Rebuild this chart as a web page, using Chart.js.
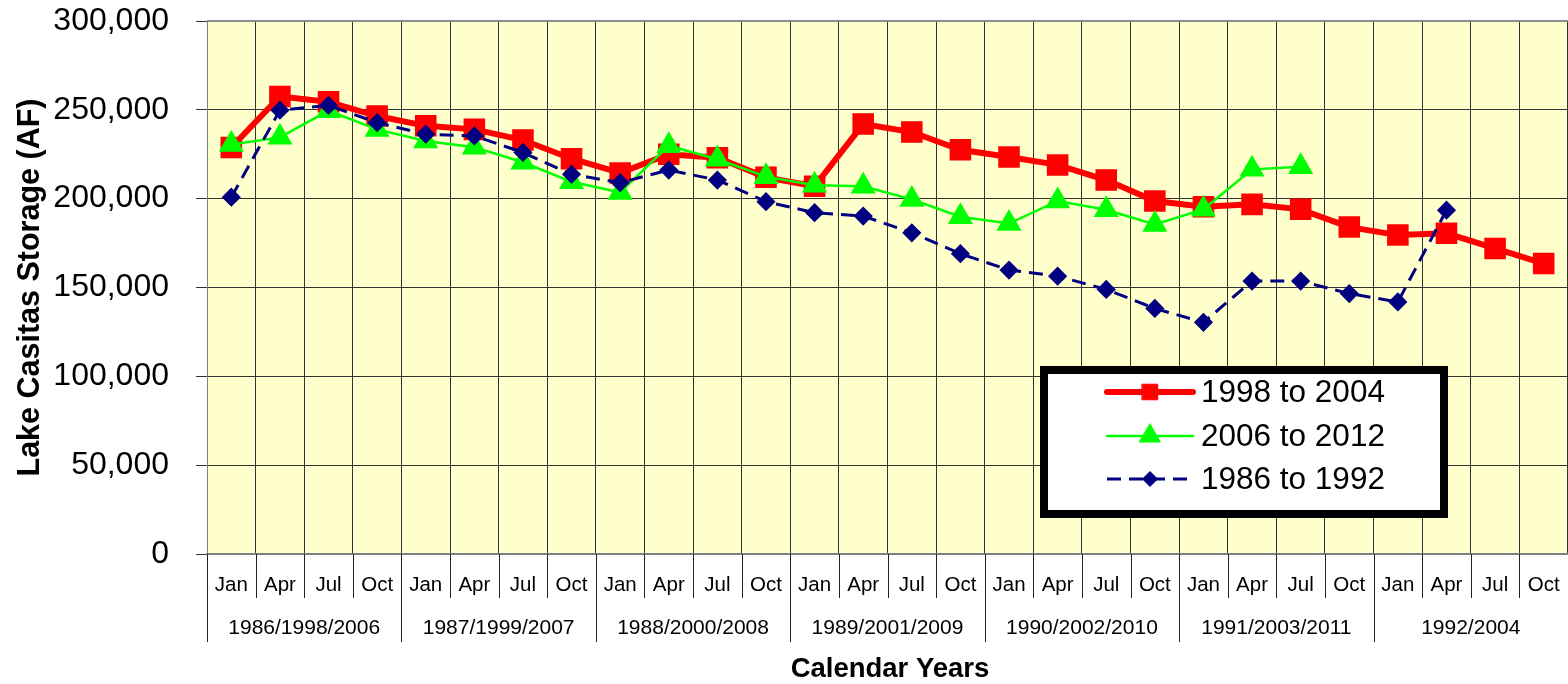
<!DOCTYPE html>
<html>
<head>
<meta charset="utf-8">
<script src="https://cdn.jsdelivr.net/npm/chart.js@4.4.1/dist/chart.umd.min.js"></script>
<style>
html,body{margin:0;padding:0;background:#ffffff;overflow:hidden;}
#wrap{width:1568px;height:684px;position:relative;}
</style>
</head>
<body>
<div id="wrap"><canvas id="c" width="1568" height="684"></canvas></div>
<script>
// ---------- data ----------
const months = ['Jan','Apr','Jul','Oct','Jan','Apr','Jul','Oct','Jan','Apr','Jul','Oct','Jan','Apr','Jul','Oct',
                'Jan','Apr','Jul','Oct','Jan','Apr','Jul','Oct','Jan','Apr','Jul','Oct'];
const yearLabels = ['1986/1998/2006','1987/1999/2007','1988/2000/2008','1989/2001/2009','1990/2002/2010','1991/2003/2011','1992/2004'];
const seriesNames = ['1998 to 2004','2006 to 2012','1986 to 1992'];
const series1998 = [228800,257500,254500,246500,241000,239000,233000,222500,214500,225000,223000,212000,207000,242000,
                    237500,227500,223500,219000,210500,198700,195500,196800,194000,184000,179500,180500,172000,163500];
const series2006 = [230500,234500,249500,239000,232500,229000,220500,209500,203500,229800,222200,212400,207500,207000,
                    199600,189800,186000,198700,193800,185500,194000,216500,218000,null,null,null,null,null];
const series1986 = [200800,249800,252500,242800,236300,235300,226000,213700,209000,216100,210500,198300,192100,190200,
                    180800,169000,159800,156400,148900,138200,130400,153600,153600,146600,141900,193500,null,null];
const yMin = 0, yMax = 300000, yStep = 50000;
const xTitle = 'Calendar Years';
const yTitle = 'Lake Casitas Storage (AF)';

const FONT = 'Arial, "Liberation Sans", Helvetica, sans-serif';

// ---------- plugins ----------
const plotBg = {
  id: 'plotBg',
  beforeDraw(chart) {
    const {ctx, chartArea: a} = chart;
    ctx.save();
    ctx.fillStyle = '#FFFFCC';
    ctx.fillRect(a.left, a.top, a.right - a.left, a.bottom - a.top);
    ctx.restore();
  },
  afterDatasetsDraw(chart) {
    const {ctx, chartArea: a} = chart;
    ctx.save();
    ctx.strokeStyle = '#8c8c8c';
    ctx.lineWidth = 2;
    ctx.beginPath();
    ctx.moveTo(a.left, a.top);
    ctx.lineTo(a.right, a.top);
    ctx.stroke();
    ctx.restore();
  }
};

const xAxisLabels = {
  id: 'xAxisLabels',
  afterDraw(chart) {
    const {ctx, chartArea: a} = chart;
    const xs = chart.scales.x;
    const n = months.length;
    const step = xs.getPixelForValue(1) - xs.getPixelForValue(0);
    const start = xs.getPixelForValue(0) - step / 2;
    ctx.save();
    ctx.strokeStyle = '#222';
    ctx.lineWidth = 1;
    for (let b = 0; b < n; b++) {
      const bx = Math.round(start + b * step) + 0.5;
      ctx.beginPath();
      ctx.moveTo(bx, a.bottom);
      ctx.lineTo(bx, b % 4 === 0 ? 642 : 598);
      ctx.stroke();
    }
    ctx.fillStyle = '#000';
    ctx.textAlign = 'center';
    ctx.textBaseline = 'middle';
    ctx.font = '20.5px ' + FONT;
    for (let i = 0; i < n; i++) {
      ctx.fillText(months[i], xs.getPixelForValue(i), 585);
    }
    ctx.font = '21px ' + FONT;
    for (let g = 0; g < yearLabels.length; g++) {
      const first = g * 4, last = Math.min(g * 4 + 3, n - 1);
      const cx = (xs.getPixelForValue(first) + xs.getPixelForValue(last)) / 2;
      ctx.fillText(yearLabels[g], cx, 628);
    }
    ctx.font = 'bold 27.5px ' + FONT;
    ctx.fillText(xTitle, 890, 669);
    ctx.restore();
  }
};

const boxLegend = {
  id: 'boxLegend',
  afterDraw(chart) {
    const {ctx} = chart;
    const L = 1040, T = 366, R = 1448, B = 518;
    ctx.save();
    ctx.fillStyle = '#fff';
    ctx.fillRect(L, T, R - L, B - T);
    ctx.strokeStyle = '#000';
    ctx.lineWidth = 8;
    ctx.strokeRect(L + 4, T + 4, R - L - 8, B - T - 8);
    const rows = [392, 436, 479];
    chart.data.datasets.forEach((ds, i) => {
      const y = rows[i];
      ctx.save();
      ctx.strokeStyle = ds.borderColor;
      ctx.lineWidth = ds.borderWidth;
      ctx.lineCap = ds.borderDash ? 'butt' : 'round';
      ctx.setLineDash(ds.borderDash || []);
      ctx.beginPath();
      ctx.moveTo(1107, y);
      ctx.lineTo(1193, y);
      ctx.stroke();
      ctx.setLineDash([]);
      ctx.fillStyle = ds.pointBackgroundColor;
      ctx.strokeStyle = ds.pointBorderColor;
      ctx.lineWidth = 1;
      Chart.helpers.drawPoint(ctx, {pointStyle: ds.pointStyle, radius: ds.pointRadius, rotation: 0, borderWidth: 1}, 1150, y);
      ctx.restore();
      ctx.fillStyle = '#000';
      ctx.font = '31.5px ' + FONT;
      ctx.textAlign = 'left';
      ctx.textBaseline = 'middle';
      ctx.fillText(ds.label, 1201, y + 1);
    });
    ctx.restore();
  }
};

// ---------- chart ----------
Chart.defaults.font.family = FONT;
Chart.defaults.color = '#000';

new Chart(document.getElementById('c'), {
  type: 'line',
  data: {
    labels: months,
    datasets: [
      {
        label: seriesNames[0], data: series1998, order: 3,
        borderColor: '#FF0000', backgroundColor: '#FF0000', borderWidth: 6,
        pointStyle: 'rect', pointRadius: 11, pointBackgroundColor: '#FF0000', pointBorderColor: '#FF0000',
        tension: 0, fill: false
      },
      {
        label: seriesNames[1], data: series2006, order: 2,
        borderColor: '#00FF00', backgroundColor: '#00FF00', borderWidth: 2.5,
        pointStyle: 'triangle', pointRadius: 12, pointBackgroundColor: '#00FF00', pointBorderColor: '#00FF00',
        tension: 0, fill: false
      },
      {
        label: seriesNames[2], data: series1986, order: 1,
        borderColor: '#000080', backgroundColor: '#000080', borderWidth: 3, borderDash: [14, 8],
        pointStyle: 'rectRot', pointRadius: 7.5, pointBackgroundColor: '#000080', pointBorderColor: '#000080',
        tension: 0, fill: false
      }
    ]
  },
  options: {
    responsive: false,
    animation: false,
    devicePixelRatio: 1,
    layout: {autoPadding: false, padding: {left: 0, right: -4, top: 21, bottom: 0}},
    plugins: {legend: {display: false}, tooltip: {enabled: false}},
    scales: {
      x: {
        type: 'category',
        offset: true,
        grid: {offset: true, color: '#333', lineWidth: 1, drawTicks: false},
        border: {color: '#808080', width: 2},
        ticks: {display: false},
        afterFit(scale) { scale.height = 130; scale.paddingLeft = 0; scale.paddingRight = 0; }
      },
      y: {
        min: yMin, max: yMax,
        grid: {color: '#333', lineWidth: 1, tickLength: 11, drawTicks: true},
        border: {color: '#808080', width: 1},
        ticks: {
          stepSize: yStep, padding: 27, color: '#000',
          font: {size: 32},
          callback: (v) => v.toLocaleString('en-US')
        },
        title: {display: true, text: yTitle, color: '#000', font: {size: 30.5, weight: 'bold'}, padding: {top: 12, bottom: 0}},
        afterFit(scale) { scale.width = 207; scale.paddingTop = 0; scale.paddingBottom = 0; }
      }
    }
  },
  plugins: [plotBg, xAxisLabels, boxLegend]
});
</script>
</body>
</html>
